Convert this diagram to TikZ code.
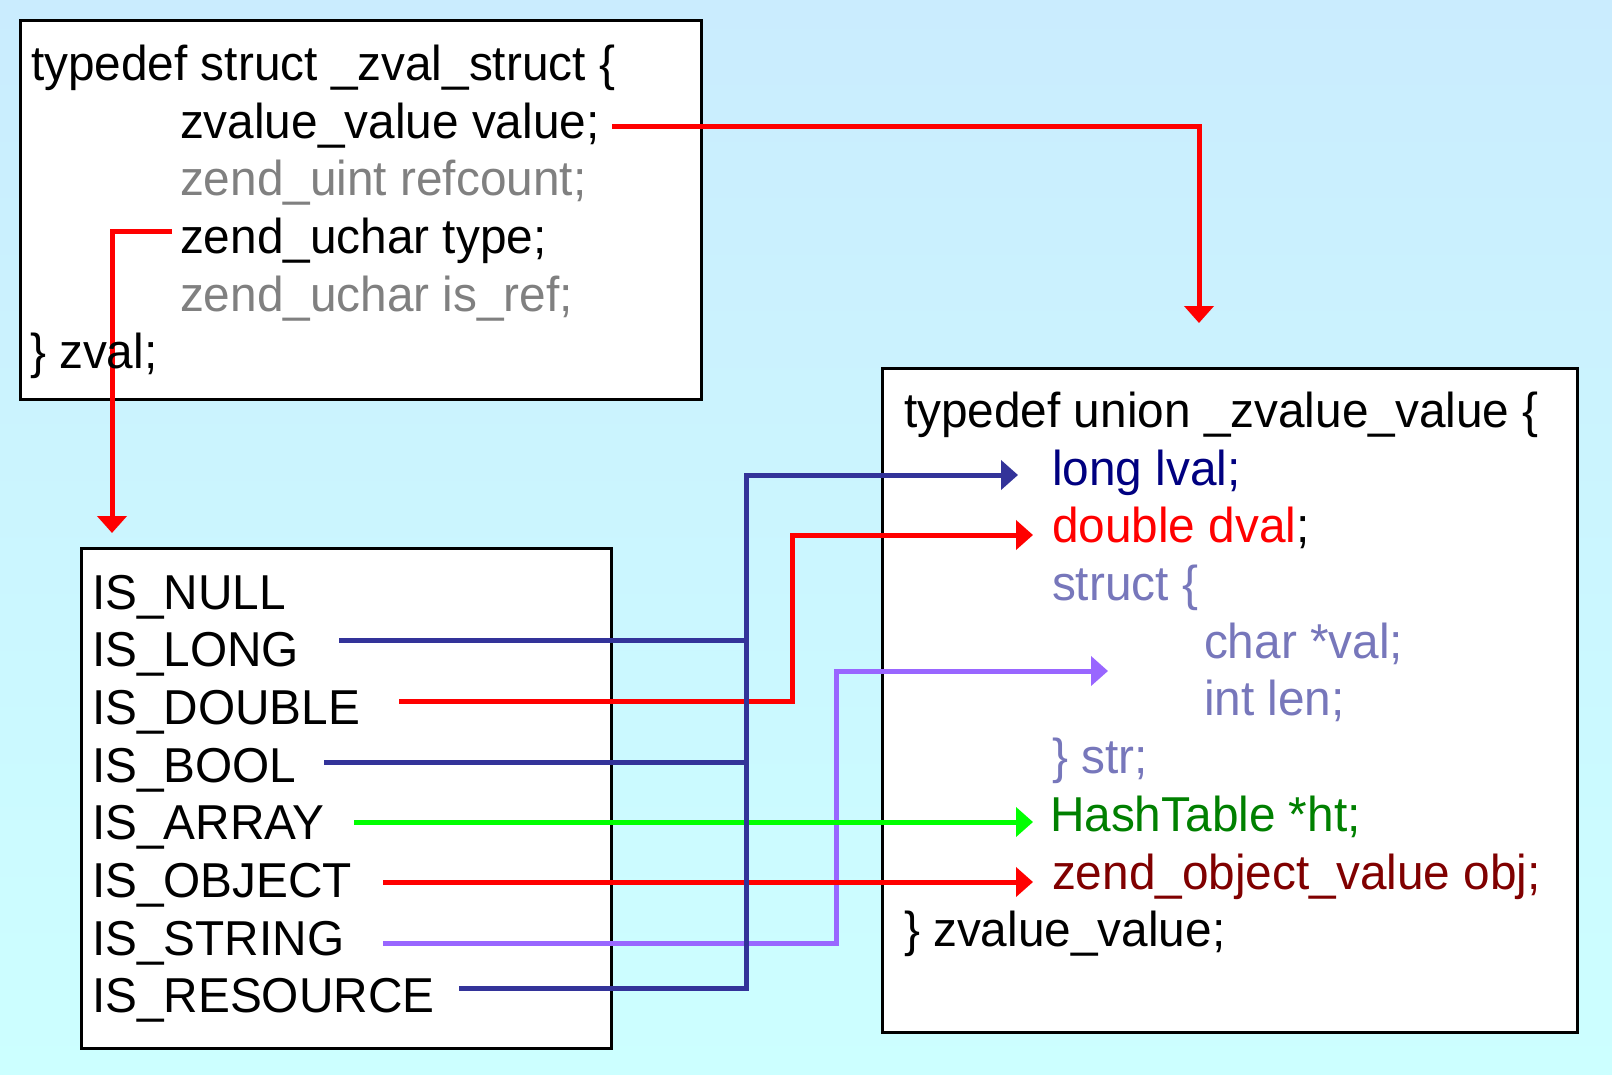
\documentclass[tikz,border=0pt]{standalone}
\usepackage{fontspec}
\setmainfont[FakeStretch=0.975]{Liberation Sans}
\usetikzlibrary{arrows.meta}
\definecolor{bgtop}{RGB}{202,236,254}
\definecolor{bgbot}{RGB}{204,255,255}
\definecolor{lnblue}{RGB}{51,51,153}
\definecolor{lnred}{RGB}{255,0,0}
\definecolor{lngreen}{RGB}{0,255,0}
\definecolor{lnpurple}{RGB}{153,102,255}
\definecolor{txgray}{RGB}{128,128,128}
\definecolor{txnavy}{RGB}{0,0,128}
\definecolor{txslate}{RGB}{119,119,187}
\definecolor{txgreen}{RGB}{0,128,0}
\definecolor{txmaroon}{RGB}{128,0,0}
\begin{document}
\begin{tikzpicture}[x=1pt,y=-1pt,
  txt/.style={anchor=base west,inner sep=0pt,outer sep=0pt,font=\fontsize{49}{57.7}\selectfont},
  box/.style={draw=black,line width=3pt,fill=white,anchor=north west,inner sep=0pt,outer sep=0pt},
  conn/.style={line width=5pt},
  tipped/.style={-{Triangle[length=17pt,width=29pt]}}]
\useasboundingbox (0,0) rectangle (1612,1074);
\shade[top color=bgtop,bottom color=bgbot] (0,0) rectangle (1612,1074);

% boxes
\node[box,minimum width=681pt,minimum height=379pt] (zvalbox) at (20,20) {};
\node[box,minimum width=530pt,minimum height=500pt] (typebox) at (81,548) {};
\node[box,minimum width=695pt,minimum height=664pt] (unionbox) at (882,368) {};

% connector coordinates
\coordinate (valS) at (612,126);
\coordinate (valT) at (1199,323);
\coordinate (typS) at (172,231);
\coordinate (typT) at (112,533);
\coordinate (longS) at (339,640);
\coordinate (boolS) at (324,762);
\coordinate (resS) at (459,988);
\coordinate (trunk) at (746,475);
\coordinate (lvalT) at (1018,475);
\coordinate (dblS) at (399,701);
\coordinate (dblM) at (792,535);
\coordinate (dvalT) at (1033,535);
\coordinate (arrS) at (354,822);
\coordinate (htT) at (1033,822);
\coordinate (objS) at (383,882);
\coordinate (objT) at (1033,882);
\coordinate (strS) at (383,943);
\coordinate (strM) at (836,671);
\coordinate (strT) at (1108,671);

% connectors
\draw[conn,lnred,tipped] (valS) -| (valT);
\draw[conn,lnred,tipped] (typS) -| (typT);
\draw[conn,lnpurple,tipped] (strS) -| (strM) -- (strT);
\draw[conn,lnred,tipped] (dblS) -| (dblM) -- (dvalT);
\draw[conn,lngreen,tipped] (arrS) -- (htT);
\draw[conn,lnred,tipped] (objS) -- (objT);
\draw[conn,lnblue,tipped] (resS) -| (trunk) -- (lvalT);
\draw[conn,lnblue] (longS) -- (longS -| trunk);
\draw[conn,lnblue] (boolS) -- (boolS -| trunk);

% zval struct text
\node[txt] (z1) at (31,80) {typedef struct \_zval\_struct \{};
\node[txt] (z2) at (180,138) {zvalue\_value value;};
\node[txt,text=txgray] (z3) at (180,195) {zend\_uint refcount;};
\node[txt] (z4) at (180,253) {zend\_uchar type;};
\node[txt,text=txgray] (z5) at (180,311) {zend\_uchar is\_ref;};
\node[txt] (z6) at (30,368) {\} zval;};

% type constants
\node[txt] (t1) at (92,609) {IS\_NULL};
\node[txt] (t2) at (92,666.7) {IS\_LONG};
\node[txt] (t3) at (92,724.4) {IS\_DOUBLE};
\node[txt] (t4) at (92,782.1) {IS\_BOOL};
\node[txt] (t5) at (92,839.8) {IS\_ARRAY};
\node[txt] (t6) at (92,897.5) {IS\_OBJECT};
\node[txt] (t7) at (92,955.2) {IS\_STRING};
\node[txt] (t8) at (92,1012.9) {IS\_RESOURCE};

% zvalue union text
\node[txt] (u1) at (904,427) {typedef union \_zvalue\_value \{};
\node[txt,text=txnavy] (u2) at (1052,485) {long lval;};
\node[txt] (u3) at (1052,542) {\textcolor{lnred}{double dval};};
\node[txt,text=txslate] (u4) at (1052,600) {struct \{};
\node[txt,text=txslate] (u5) at (1204,658) {char *val;};
\node[txt,text=txslate] (u6) at (1204,715) {int len;};
\node[txt,text=txslate] (u7) at (1052,773) {\} str;};
\node[txt,text=txgreen] (u8) at (1050,831) {HashTable *ht;};
\node[txt,text=txmaroon] (u9) at (1052,889) {zend\_object\_value obj;};
\node[txt] (u10) at (904,946) {\} zvalue\_value;};
\end{tikzpicture}
\end{document}
